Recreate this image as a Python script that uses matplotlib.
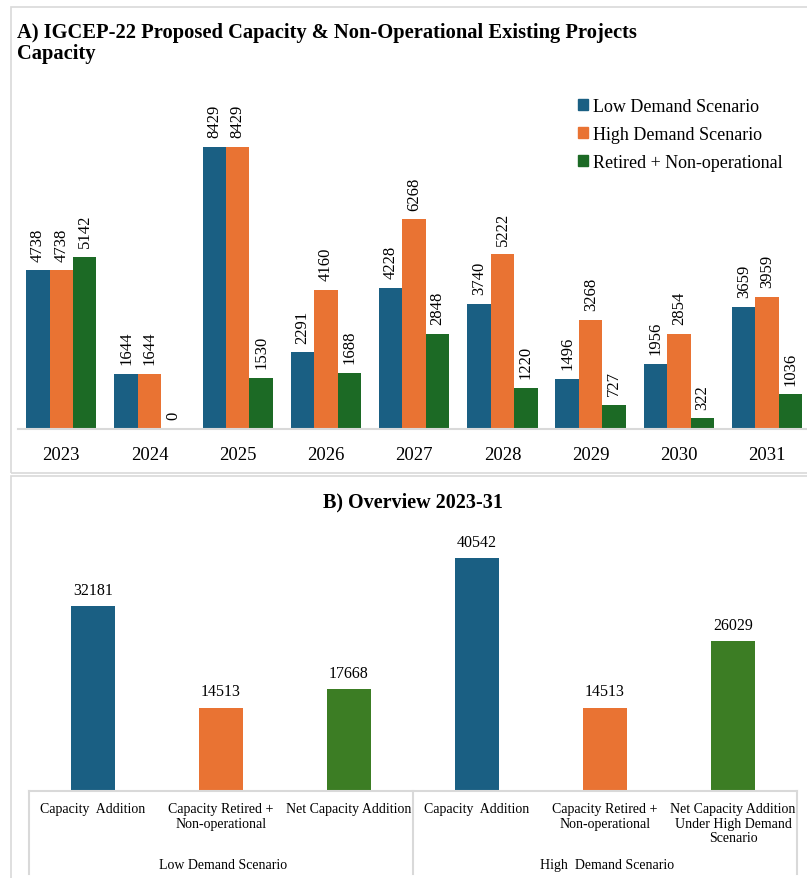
import numpy as np
import matplotlib.pyplot as plt
from matplotlib.patches import Rectangle, Patch
from matplotlib.lines import Line2D

# Yearly capacity (MW)
years = ['2023', '2024', '2025', '2026', '2027', '2028', '2029', '2030', '2031']
low_demand = [4738, 1644, 8429, 2291, 4228, 3740, 1496, 1956, 3659]
high_demand = [4738, 1644, 8429, 4160, 6268, 5222, 3268, 2854, 3959]
retired = [5142, 0, 1530, 1688, 2848, 1220, 727, 322, 1036]
series_names = ['Low Demand Scenario', 'High Demand Scenario', 'Retired + Non-operational']

# Overview 2023-31
overview_labels = ['Capacity  Addition', 'Capacity Retired +\nNon-operational', 'Net Capacity Addition',
                   'Capacity  Addition', 'Capacity Retired +\nNon-operational',
                   'Net Capacity Addition\nUnder High Demand\nScenario']
overview_values = [32181, 14513, 17668, 40542, 14513, 26029]
scenario_groups = ['Low Demand Scenario', 'High  Demand Scenario']

BLUE = '#1a5f83'
ORANGE = '#e97333'
DKGREEN = '#1c6a25'
GREEN = '#3c7d24'
GRID = '#d9d9d9'

plt.rcParams['font.family'] = ['Liberation Serif', 'DejaVu Serif']

W, H = 807, 879
fig = plt.figure(figsize=(W / 100, H / 100), dpi=100)


def fx(x):
    return x / W


def fy(y):
    return 1 - y / H


def px_axes(left, top, right, bottom):
    return fig.add_axes([fx(left), fy(bottom), fx(right) - fx(left), (bottom - top) / H])


# panel frames
fig.add_artist(Rectangle((fx(11), fy(474)), fx(820) - fx(11), (474 - 8) / H,
                         transform=fig.transFigure, fill=False, edgecolor=GRID, lw=1.2))
fig.add_artist(Rectangle((fx(11), fy(900)), fx(820) - fx(11), (900 - 477) / H,
                         transform=fig.transFigure, fill=False, edgecolor=GRID, lw=1.2))

# ---- A) yearly bars ----
ax1 = px_axes(18, 70, 806, 430)
x = np.arange(len(years))
bw = 0.266
for off, vals, col in [(-bw, low_demand, BLUE), (0, high_demand, ORANGE), (bw, retired, DKGREEN)]:
    ax1.bar(x + off, vals, width=bw, color=col, edgecolor='none')
    for xi, v in zip(x + off, vals):
        ax1.annotate(str(v), (xi, v), xytext=(0, 7), textcoords='offset points',
                     rotation=90, ha='center', va='bottom', fontsize=12)
ax1.set_xlim(-0.49, 8.44)
ax1.set_ylim(0, 10759)
ax1.set_xticks(x)
ax1.set_xticklabels(years, fontsize=13.5)
ax1.tick_params(axis='x', length=0, pad=12)
ax1.set_yticks([])
for s in ['top', 'right', 'left']:
    ax1.spines[s].set_visible(False)
ax1.spines['bottom'].set_color(GRID)
ax1.spines['bottom'].set_linewidth(1.5)

handles = [Patch(color=c) for c in (BLUE, ORANGE, DKGREEN)]
fig.legend(handles, series_names, loc='upper left', bbox_to_anchor=(fx(578), fy(99)),
           frameon=False, fontsize=13, handlelength=0.55, handleheight=0.55,
           handletextpad=0.3, labelspacing=0.6, borderpad=0, borderaxespad=0)

fig.text(fx(17), fy(23), 'A) IGCEP-22 Proposed Capacity & Non-Operational Existing Projects\nCapacity',
         fontsize=14.8, fontweight='bold', ha='left', va='top', linespacing=1.1)

# ---- B) overview bars ----
ax2 = px_axes(29, 530, 797, 792)
x2 = np.arange(len(overview_values))
colors2 = [BLUE, ORANGE, GREEN, BLUE, ORANGE, GREEN]
ax2.bar(x2, overview_values, width=0.35, color=colors2, edgecolor='none')
for xi, v in zip(x2, overview_values):
    ax2.annotate(str(v), (xi, v), xytext=(0, 6), textcoords='offset points',
                 ha='center', va='bottom', fontsize=11.5)
ax2.set_xlim(-0.5, 5.5)
ax2.set_ylim(0, 45590)
ax2.set_xticks([])
ax2.set_yticks([])
for s in ['top', 'right', 'left']:
    ax2.spines[s].set_visible(False)
ax2.spines['bottom'].set_color(GRID)
ax2.spines['bottom'].set_linewidth(1.5)

fig.text(fx(413), fy(502), 'B) Overview 2023-31', fontsize=14.5, fontweight='bold',
         ha='center', va='center')

# two-level category axis: item labels, then scenario groups split by tick lines
for xl in (29, 413, 797):
    fig.add_artist(Line2D([fx(xl), fx(xl)], [fy(792), fy(875)], transform=fig.transFigure,
                          color=GRID, lw=1.5))
for xi, lab in zip(x2, overview_labels):
    ax2.text(xi, -0.042, lab, transform=ax2.get_xaxis_transform(), ha='center', va='top',
             fontsize=10, linespacing=1.15)
for i, grp in enumerate(scenario_groups):
    fig.text(fx(223 + 384 * i), fy(866), grp, fontsize=10, ha='center', va='center')

fig.savefig('out.png', dpi=100)
